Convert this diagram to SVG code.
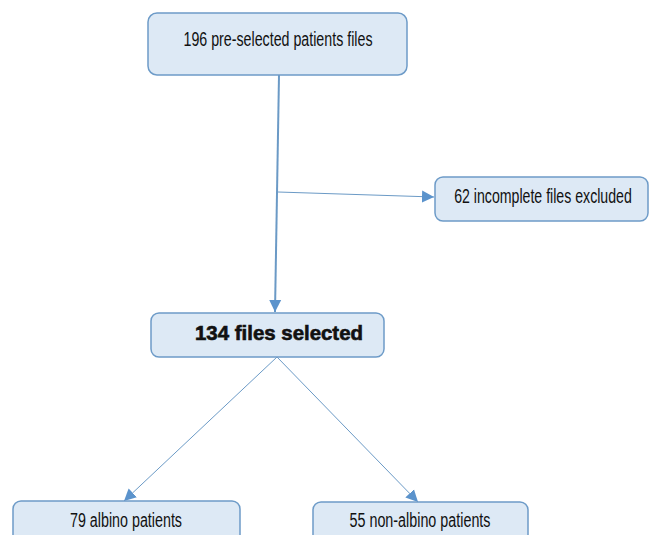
<svg xmlns="http://www.w3.org/2000/svg" width="652" height="535" viewBox="0 0 652 535">
<defs>
<style>
.box{fill:#dde9f5;stroke:#6d9bc8;stroke-width:1.5}
.t{font-family:"Liberation Sans Narrow","Liberation Sans",Arial,sans-serif;font-size:19.5px;fill:#111;text-anchor:middle}
.b{font-family:"Liberation Sans","DejaVu Sans",sans-serif;font-weight:bold;font-size:19.5px;fill:#111;stroke:#111;stroke-width:0.6;text-anchor:middle}
.c{stroke:#6b9ac6;fill:none}
</style>
<marker id="ahb" viewBox="0 0 10 10" refX="10" refY="5" markerWidth="12" markerHeight="14" markerUnits="userSpaceOnUse" orient="auto">
<path d="M0,0 L10,5 L0,10 z" fill="#5b93cc"/>
</marker>
</defs>
<rect width="652" height="535" fill="#fff"/>
<g id="connectors">
<line class="c" x1="279" y1="75" x2="275" y2="312" stroke-width="2" marker-end="url(#ahb)"/>
<line class="c" x1="278" y1="192" x2="434" y2="197" stroke-width="1" marker-end="url(#ahb)"/>
<line class="c" x1="277" y1="357" x2="124" y2="501" stroke-width="1" marker-end="url(#ahb)"/>
<line class="c" x1="277" y1="357" x2="418" y2="502" stroke-width="1" marker-end="url(#ahb)"/>
</g>
<g id="n1">
<rect class="box" x="148" y="13" width="259" height="62" rx="9"/>
<text class="t" x="278" y="46" textLength="189" lengthAdjust="spacingAndGlyphs">196 pre-selected patients files</text>
</g>
<g id="n2">
<rect class="box" x="435" y="177" width="213" height="44" rx="8"/>
<text class="t" transform="translate(543,203) scale(0.8,1)" x="0" y="0" font-size="18.5" textLength="222" lengthAdjust="spacingAndGlyphs">62 incomplete files excluded</text>
</g>
<g id="n3">
<rect class="box" x="151" y="313" width="233" height="44" rx="8"/>
<text class="b" x="279" y="340" textLength="168" lengthAdjust="spacingAndGlyphs">134 files selected</text>
</g>
<g id="n4">
<rect class="box" x="13" y="501" width="227" height="44" rx="8"/>
<text class="t" x="126" y="527" textLength="112" lengthAdjust="spacingAndGlyphs">79 albino patients</text>
</g>
<g id="n5">
<rect class="box" x="313" y="502" width="215" height="44" rx="8"/>
<text class="t" x="420" y="527" textLength="141" lengthAdjust="spacingAndGlyphs">55 non-albino patients</text>
</g>
</svg>
